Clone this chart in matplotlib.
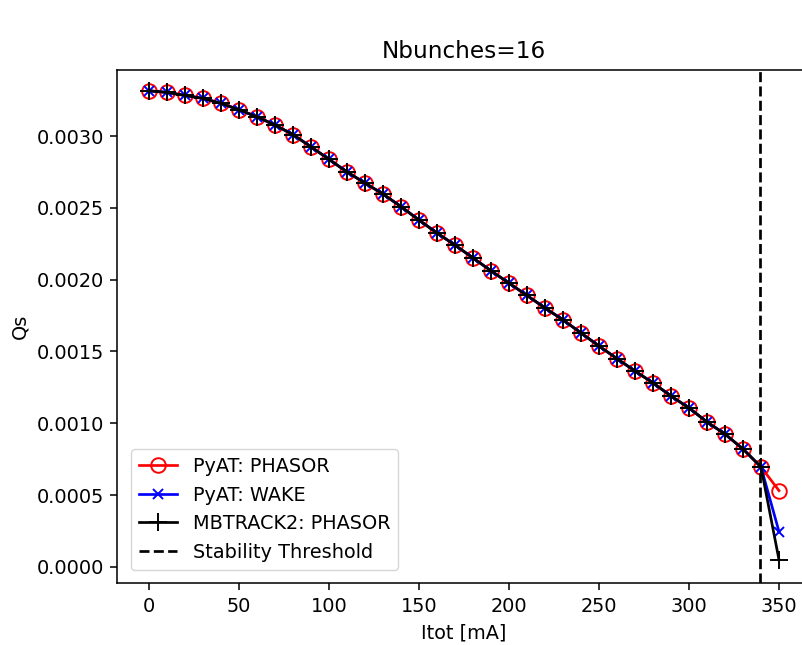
import matplotlib
matplotlib.use("Agg")
import matplotlib.pyplot as plt
import numpy as np

S = 1.39  # scale factor relative to default dpi

itot = [0, 10, 20, 30, 40, 50, 60, 70, 80, 90, 100, 110, 120, 130, 140, 150, 160, 170,
        180, 190, 200, 210, 220, 230, 240, 250, 260, 270, 280, 290, 300, 310, 320, 330,
        340, 350]
qs_common = [0.003315, 0.003304, 0.003283, 0.003262, 0.003228, 0.003183, 0.003134,
             0.003077, 0.003010, 0.002925, 0.002838, 0.002750, 0.002673, 0.002596,
             0.002509, 0.002415, 0.002325, 0.002241, 0.002151, 0.002062, 0.001976,
             0.001890, 0.001803, 0.001720, 0.001629, 0.001538, 0.001450, 0.001364,
             0.001281, 0.001190, 0.001107, 0.001009, 0.000925, 0.000821, 0.000696]
qs_pyat_phasor = qs_common + [0.000531]
qs_pyat_wake = qs_common + [0.000246]
qs_mbtrack = qs_common + [0.000049]
threshold = 339.5

plt.rcParams.update({
    "font.size": 10 * S,
    "axes.linewidth": 0.8 * S,
    "xtick.major.width": 0.8 * S,
    "ytick.major.width": 0.8 * S,
    "xtick.major.size": 3.5 * S,
    "ytick.major.size": 3.5 * S,
    "xtick.major.pad": 3.5 * S,
    "ytick.major.pad": 3.5 * S,
})

fig = plt.figure(figsize=(8.03, 6.45), dpi=100)
ax = fig.add_axes([117.5 / 803, (645 - 583) / 645, 693 / 803, 513 / 645])

ax.plot(itot, qs_pyat_phasor, color="red", marker="o", mfc="none", markersize=10.5,
        lw=1.4 * S, mew=1.0 * S, label="PyAT: PHASOR")
ax.plot(itot, qs_pyat_wake, color="blue", marker="x", markersize=7.5,
        lw=1.4 * S, mew=1.0 * S, label="PyAT: WAKE")
ax.plot(itot, qs_mbtrack, color="black", marker="+", markersize=12.5,
        lw=1.4 * S, mew=1.0 * S, label="MBTRACK2: PHASOR")
ax.axvline(threshold, color="black", ls="--", lw=1.4 * S, label="Stability Threshold")

ax.set_title("Nbunches=16", pad=6 * S)
ax.set_xlabel("Itot [mA]", labelpad=4 * S)
ax.set_ylabel("Qs", labelpad=4 * S)
ax.set_xticks([0, 50, 100, 150, 200, 250, 300, 350])
ax.set_yticks([0.0, 0.0005, 0.0010, 0.0015, 0.0020, 0.0025, 0.0030])
ax.set_yticklabels(["%.4f" % v for v in [0.0, 0.0005, 0.0010, 0.0015, 0.0020, 0.0025, 0.0030]])
ax.set_xlim(-17.5, 367.5)
ax.set_ylim(-0.000112, 0.00346)
ax.legend(loc="lower left", borderaxespad=0.5 * S)

fig.savefig("out.png", dpi=100)
